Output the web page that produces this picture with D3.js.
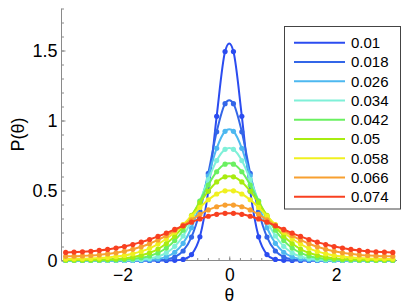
<!DOCTYPE html>
<html>
<head>
<meta charset="utf-8">
<script src="https://cdn.jsdelivr.net/npm/d3@7"></script>
<style>
  body { margin: 0; background: #fff; }
  svg { display: block; font-family: "Liberation Sans", Arial, Helvetica, sans-serif; }
</style>
</head>
<body>
<svg id="chart" width="407" height="307"></svg>
<script>
// legend labels (series parameter)
const seriesLabels = ["0.01", "0.018", "0.026", "0.034", "0.042", "0.05", "0.058", "0.066", "0.074"];
const seriesColors = ["#2b4cf0", "#3366e8", "#4db8f0", "#7ff0d8", "#6af060", "#a8ec10", "#f0f020", "#f8a030", "#f84020"];

// 40 bin centres across [-pi, pi]
const nBins = 40;
const theta = d3.range(nBins).map(i => -Math.PI + (i + 0.5) * (2 * Math.PI / nBins));

// P(theta) values, one array per series (left to right)
const s001 = [0,0,0,0,0,0,0,0,0,0,0,0,0.0001,0.0012,0.0078,0.042,0.169,0.495,1.030,1.492,
              1.492,1.030,0.495,0.169,0.042,0.0078,0.0012,0.0001,0,0,0,0,0,0,0,0,0,0,0,0];
const s0018 = [0,0,0,0,0,0,0,0,0,0,0.0007,0.0024,0.008,0.025,0.068,0.167,0.351,0.622,0.919,1.120,
               1.120,0.919,0.622,0.351,0.167,0.068,0.025,0.008,0.0024,0.0007,0,0,0,0,0,0,0,0,0,0];
const s0026 = [0,0,0,0,0,0,0,0.0003,0.0007,0.0018,0.0045,0.011,0.026,0.059,0.123,0.234,0.400,0.605,0.801,0.923,
               0.923,0.801,0.605,0.400,0.234,0.123,0.059,0.026,0.011,0.0045,0.0018,0.0007,0.0003,0,0,0,0,0,0,0];
const s0034 = [0.0002,0.0002,0.0002,0.0003,0.0003,0.0006,0.0011,0.0020,0.0038,0.0074,0.0146,0.029,0.055,0.101,0.175,0.284,0.424,0.578,0.714,0.794,
               0.794,0.714,0.578,0.424,0.284,0.175,0.101,0.055,0.029,0.0146,0.0074,0.0038,0.0020,0.0011,0.0006,0.0003,0.0003,0.0002,0.0002,0.0002];
const s0042 = [0.0009,0.0010,0.0011,0.0015,0.0020,0.0029,0.0044,0.007,0.011,0.019,0.032,0.054,0.089,0.142,0.216,0.313,0.425,0.539,0.634,0.688,
               0.688,0.634,0.539,0.425,0.313,0.216,0.142,0.089,0.054,0.032,0.019,0.011,0.007,0.0044,0.0029,0.0020,0.0015,0.0011,0.0010,0.0009];
const s005 = [0.0034,0.0036,0.0041,0.0049,0.0062,0.0083,0.0115,0.017,0.024,0.037,0.055,0.082,0.121,0.174,0.242,0.323,0.411,0.495,0.561,0.598,
              0.598,0.561,0.495,0.411,0.323,0.242,0.174,0.121,0.082,0.055,0.037,0.024,0.017,0.0115,0.0083,0.0062,0.0049,0.0041,0.0036,0.0034];
const s0058 = [0.011,0.012,0.013,0.015,0.018,0.022,0.028,0.036,0.048,0.065,0.087,0.117,0.155,0.202,0.257,0.318,0.379,0.434,0.475,0.498,
               0.498,0.475,0.434,0.379,0.318,0.257,0.202,0.155,0.117,0.087,0.065,0.048,0.036,0.028,0.022,0.018,0.015,0.013,0.012,0.011];
const s0066 = [0.030,0.031,0.033,0.036,0.040,0.047,0.055,0.066,0.080,0.098,0.120,0.147,0.178,0.214,0.252,0.291,0.329,0.361,0.384,0.396,
               0.396,0.384,0.361,0.329,0.291,0.252,0.214,0.178,0.147,0.120,0.098,0.080,0.066,0.055,0.047,0.040,0.036,0.033,0.031,0.030];
const s0074 = [0.058,0.060,0.062,0.066,0.072,0.079,0.089,0.100,0.114,0.131,0.150,0.172,0.196,0.222,0.248,0.274,0.297,0.316,0.330,0.337,
               0.337,0.330,0.316,0.297,0.274,0.248,0.222,0.196,0.172,0.150,0.131,0.114,0.100,0.089,0.079,0.072,0.066,0.062,0.060,0.058];
const seriesValues = [s001, s0018, s0026, s0034, s0042, s005, s0058, s0066, s0074];

const yMajorTicks = [0, 0.5, 1, 1.5];
const yTickLabels = ["0", "0.5", "1", "1.5"];
const xMajorTicks = [-2, 0, 2];
const xTickLabels = ["\u22122", "0", "2"];

const svg = d3.select("#chart");
const x = d3.scaleLinear().domain([-Math.PI, Math.PI]).range([61.5, 397]);
const y = d3.scaleLinear().domain([0, 1.8]).range([260.5, 8.5]);

const axisColor = "#8a8a8a";

// x axis
const gx = svg.append("g").attr("transform", `translate(0,${y(0)})`);
gx.call(d3.axisBottom(x).tickValues(d3.range(-3, 3.01, 0.2).filter(v => v >= -Math.PI && v <= Math.PI)).tickSize(-2.5).tickFormat(""))
  .call(g => g.select(".domain").remove());
gx.selectAll(".tick line").attr("stroke", axisColor);
const gx2 = svg.append("g").attr("transform", `translate(0,${y(0)})`);
gx2.call(d3.axisBottom(x).tickValues(xMajorTicks).tickSize(-4).tickPadding(10)
  .tickFormat((d, i) => xTickLabels[i]))
  .call(g => g.select(".domain").attr("stroke", axisColor).attr("d", `M${x.range()[0]},0H${x.range()[1]}`));
gx2.selectAll(".tick line").attr("stroke", axisColor);
gx2.selectAll(".tick text").attr("font-size", 17.5).attr("fill", "#000").attr("y", 20.5).attr("dy", 0);

// y axis
const gy = svg.append("g").attr("transform", `translate(${x(-Math.PI)},0)`);
gy.call(d3.axisLeft(y).tickValues(d3.range(0, 1.801, 0.1)).tickSize(-2.5).tickFormat(""))
  .call(g => g.select(".domain").remove());
gy.selectAll(".tick line").attr("stroke", axisColor);
const gy2 = svg.append("g").attr("transform", `translate(${x(-Math.PI)},0)`);
gy2.call(d3.axisLeft(y).tickValues(yMajorTicks).tickSize(-4).tickPadding(4)
  .tickFormat((d, i) => yTickLabels[i]))
  .call(g => g.select(".domain").attr("stroke", axisColor).attr("d", `M0,${y.range()[0]}V${y.range()[1]}`));
gy2.selectAll(".tick line").attr("stroke", axisColor);
gy2.selectAll(".tick text").attr("font-size", 18).attr("fill", "#000").attr("x", -4).attr("dy", "0.35em");

// axis labels
svg.append("text").attr("x", x(0)).attr("y", 300.5).attr("text-anchor", "middle")
  .attr("font-size", 17.5).text("θ");
svg.append("text").attr("transform", `translate(24,${(y.range()[0] + y.range()[1]) / 2}) rotate(-90)`)
  .attr("text-anchor", "middle").attr("font-size", 18).text("P(θ)");

// series
const line = d3.line().x((d, i) => x(theta[i])).y(d => y(d)).curve(d3.curveCardinal.tension(0));
seriesValues.forEach((vals, k) => {
  const g = svg.append("g");
  g.append("path").attr("d", line(vals)).attr("fill", "none")
    .attr("stroke", seriesColors[k]).attr("stroke-width", 2);
  g.selectAll("circle").data(vals).join("circle")
    .attr("cx", (d, i) => x(theta[i])).attr("cy", d => y(d)).attr("r", 2.6)
    .attr("fill", seriesColors[k]);
});

// legend
const lg = svg.append("g");
lg.append("rect").attr("x", 284.5).attr("y", 26.5).attr("width", 116).attr("height", 182.5)
  .attr("fill", "#fff").attr("stroke", "#444").attr("stroke-width", 1);
const ly = d3.scalePoint().domain(seriesLabels).range([42.7, 196.7]);
seriesLabels.forEach((lab, k) => {
  lg.append("line").attr("x1", 294).attr("x2", 345).attr("y1", ly(lab)).attr("y2", ly(lab))
    .attr("stroke", seriesColors[k]).attr("stroke-width", 2);
  lg.append("text").attr("x", 351).attr("y", ly(lab)).attr("dy", "0.36em")
    .attr("font-size", 15).text(lab);
});
</script>
</body>
</html>
